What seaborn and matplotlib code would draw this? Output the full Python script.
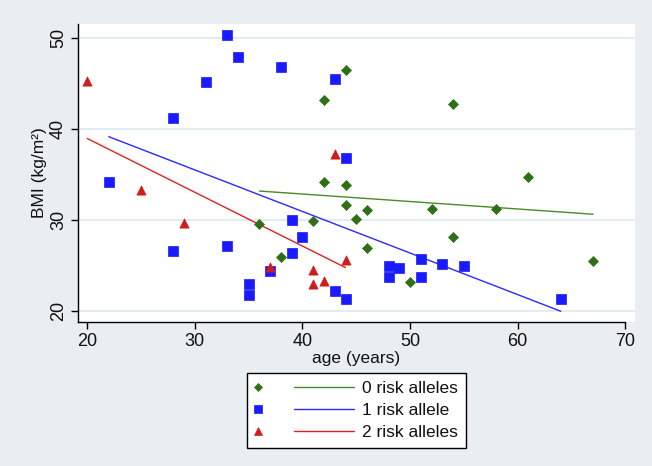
import matplotlib
matplotlib.use("Agg")
import matplotlib.pyplot as plt
import seaborn as sns
import pandas as pd
from matplotlib.lines import Line2D
from matplotlib.legend_handler import HandlerBase

# ---- data ----
age_0 = [44, 42, 54, 61, 42, 44, 44, 46, 45, 52, 58, 41, 36, 38, 46, 54, 50, 67]
bmi_0 = [46.4, 43.1, 42.7, 34.7, 34.1, 33.8, 31.6, 31.0, 30.1, 31.2, 31.2, 29.8, 29.5, 25.9, 26.9, 28.1, 23.1, 25.5]

age_1 = [33, 34, 38, 43, 31, 28, 44, 22, 28, 33, 39, 40, 39, 37, 35, 35, 43, 44,
         48, 48, 49, 51, 51, 53, 55, 64]
bmi_1 = [50.3, 47.9, 46.8, 45.4, 45.1, 41.2, 36.8, 34.1, 26.5, 27.05, 29.9, 28.1, 26.3, 24.35, 22.9, 21.7, 22.1, 21.3,
         24.9, 23.65, 24.7, 25.7, 23.65, 25.1, 24.9, 21.3]

age_2 = [20, 43, 25, 29, 37, 41, 41, 42, 44]
bmi_2 = [45.2, 37.2, 33.2, 29.6, 24.8, 24.45, 22.9, 23.3, 25.6]

labels = ["0 risk alleles", "1 risk allele", "2 risk alleles"]
x_ticks = [20, 30, 40, 50, 60, 70]
y_ticks = [20, 30, 40, 50]

groups = [(age_0, bmi_0), (age_1, bmi_1), (age_2, bmi_2)]
df = pd.concat([pd.DataFrame({"age": a, "bmi": b, "group": lab})
                for (a, b), lab in zip(groups, labels)], ignore_index=True)

marker_colors = ["#2f6f16", "#1a1aff", "#d01c1c"]
line_colors = ["#4a8a2a", "#2a2aff", "#e02020"]
markers = ["D", "s", "^"]
sizes = [26, 48, 44]

bg = "#e8eef1"
sns.set_theme(style="white")
plt.rcParams["font.family"] = ["Liberation Sans", "DejaVu Sans"]

fig = plt.figure(figsize=(6.52, 4.66), dpi=100, facecolor=bg)
ax = fig.add_axes([78/652, 1-322/466, (635-78)/652, (322-24)/466])
ax.set_facecolor("white")

for lab, mc, lc, mk, sz in zip(labels, marker_colors, line_colors, markers, sizes):
    sub = df[df["group"] == lab]
    sns.scatterplot(data=sub, x="age", y="bmi", ax=ax, marker=mk, s=sz,
                    color=mc, edgecolor=mc, linewidth=0.5, zorder=3, legend=False)
for lab, lc in zip(labels, line_colors):
    sub = df[df["group"] == lab]
    sns.regplot(data=sub, x="age", y="bmi", ax=ax, scatter=False, ci=None,
                truncate=True, color=lc, line_kws={"linewidth": 1.0, "zorder": 2})

ax.set_xlim(19.14, 70.9)
ax.set_ylim(18.74, 51.5)
ax.set_xticks(x_ticks)
ax.set_yticks(y_ticks)
ax.grid(axis="y", color="#e3ecef", linewidth=1.5, zorder=0)
ax.grid(axis="x", visible=False)
ax.set_axisbelow(True)

for s in ["top", "right"]:
    ax.spines[s].set_visible(False)
for s in ["left", "bottom"]:
    ax.spines[s].set_color("black")
    ax.spines[s].set_linewidth(1.0)
ax.spines["bottom"].set_bounds(19.14, 70)

ax.tick_params(axis="both", direction="out", length=5, width=1, color="black",
               labelsize=13, labelcolor="#111111", pad=3, left=True, bottom=True)
for t in ax.get_yticklabels():
    t.set_rotation(90)
    t.set_va("center")

ax.set_xlabel("age (years)", fontsize=12.5, color="#111111", labelpad=1)
ax.set_ylabel("BMI (kg/m²)", fontsize=12.5, color="#111111", labelpad=2)


class MarkerLineHandler(HandlerBase):
    def create_artists(self, legend, orig_handle, xdescent, ydescent, width,
                       height, fontsize, trans):
        mk, mc, lc = orig_handle
        y = height / 2 - ydescent
        x0 = -xdescent
        ms = {"D": 4.5, "s": 6.0, "^": 6.0}[mk]
        m = Line2D([x0 + 2.6], [y], marker=mk, color=mc, markersize=ms,
                   linestyle="none", markeredgewidth=0.5)
        ln = Line2D([x0 + 28.5, x0 + width], [y, y], color=lc, linewidth=1.0)
        m.set_transform(trans)
        ln.set_transform(trans)
        return [m, ln]


handles = [(mk, mc, lc) for mk, mc, lc in zip(markers, marker_colors, line_colors)]
leg = fig.legend(handles, labels, handler_map={tuple: MarkerLineHandler()},
                 loc="upper center", bbox_to_anchor=(356.5/652, 1-373/466),
                 borderaxespad=0,
                 fontsize=12.5, handlelength=5.7, handletextpad=0.5,
                 borderpad=0.45, labelspacing=0.39, frameon=True, fancybox=False,
                 edgecolor="black", facecolor="white", framealpha=1)
leg.get_frame().set_linewidth(1.0)
for t in leg.get_texts():
    t.set_color("#111111")

fig.savefig("out.png", dpi=100, facecolor=bg)
